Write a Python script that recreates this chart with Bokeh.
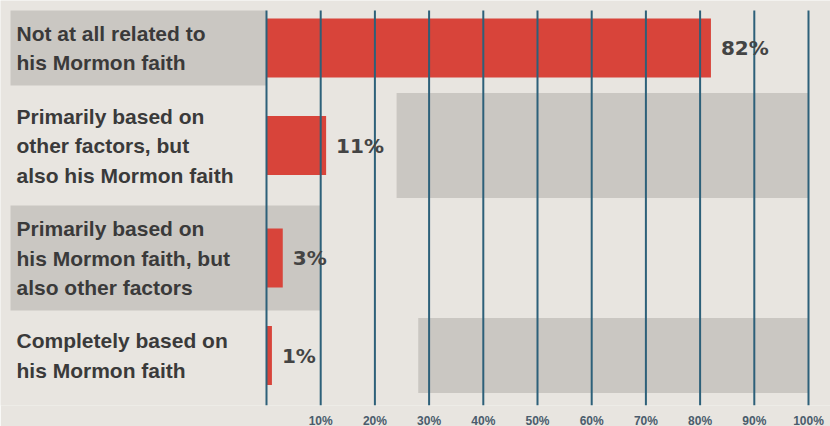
from bokeh.plotting import figure
from bokeh.models import Range1d, FixedTicker, ColumnDataSource
from bokeh.core.properties import value
from bokeh.embed import file_html
from bokeh.resources import INLINE

# ---- data ----
categories = [
    "Not at all related to\nhis Mormon faith",
    "Primarily based on\nother factors, but\nalso his Mormon faith",
    "Primarily based on\nhis Mormon faith, but\nalso other factors",
    "Completely based on\nhis Mormon faith",
]
values = [82, 11, 3, 1]
value_labels = ["82%", "11%", "3%", "1%"]
ticks = [10, 20, 30, 40, 50, 60, 70, 80, 90, 100]
tick_labels = ["10%", "20%", "30%", "40%", "50%", "60%", "70%", "80%", "90%", "100%"]
grid_values = [0] + ticks

# ---- layout (pixels) ----
W, FRAME_H = 830, 405
ZERO_PX, HUNDRED_PX = 266, 808
ppu = (HUNDRED_PX - ZERO_PX) / 100.0
x_start = -ZERO_PX / ppu
x_end = (W - ZERO_PX) / ppu
to_x = lambda px: (px - ZERO_PX) / ppu

BG = "#e8e5e0"
GREY = "#cac7c2"
RED = "#d8443a"
GRID = "#2d6079"
TEXT = "#3a3a3a"

# row geometry derived from number of label lines
top = 10
gap = 7.5
line_h = 29.5
rows = []
for cat in categories:
    n = len(cat.split("\n"))
    h = 15 + 30 * n
    rows.append((top, top + h))
    top += h + gap
centers = [(a + b) / 2 for a, b in rows]

p = figure(frame_width=W, frame_height=FRAME_H, output_backend="svg",
           toolbar_location=None, x_range=Range1d(x_start, x_end),
           y_range=Range1d(FRAME_H, 0), y_axis_location=None,
           min_border=0, min_border_left=0, min_border_right=0, min_border_top=0)
p.background_fill_color = BG
p.border_fill_color = BG
p.outline_line_color = None
p.xgrid.visible = False
p.ygrid.visible = False

# decorative grey bands (as seen on the scan)
label_left = to_x(10)
bands = dict(
    left=[label_left, 24, label_left, 28],
    right=[0, 100, 10, 100],
    top=[rows[0][0], rows[1][0], rows[2][0], rows[3][0]],
    bottom=[rows[0][1], rows[1][1], rows[2][1], rows[3][1]],
)
p.quad(source=ColumnDataSource(bands), left="left", right="right", top="top",
       bottom="bottom", fill_color=GREY, line_color=None)

# bars
bar_h = 59
src = ColumnDataSource(dict(y=centers, v=values, lab=value_labels))
p.hbar(y="y", right="v", left=0, height=bar_h, source=src,
       fill_color=RED, line_color=None)

# gridlines
p.segment(x0=grid_values, x1=grid_values, y0=[10] * len(grid_values),
          y1=[FRAME_H] * len(grid_values), line_color=GRID, line_width=2)

# value labels
p.text(x="v", y="y", text="lab", source=src, x_offset=10,
       text_font=value("DejaVu Sans"), text_font_style="bold",
       text_font_size="20px", text_color="#444444", text_baseline="middle")

# category labels, line by line
lx, ly, lt = [], [], []
for cat, c in zip(categories, centers):
    lines = cat.split("\n")
    n = len(lines)
    for i, t in enumerate(lines):
        lx.append(to_x(16))
        ly.append(c + (i - (n - 1) / 2) * line_h)
        lt.append(t)
p.text(x=lx, y=ly, text=lt, text_font=value("Liberation Sans"),
       text_font_style="bold", text_font_size="21px", text_color=TEXT,
       text_baseline="middle")

# x axis
ax = p.xaxis[0]
ax.ticker = FixedTicker(ticks=ticks)
ax.major_label_overrides = {t: l for t, l in zip(ticks, tick_labels)}
ax.axis_line_color = None
ax.major_tick_line_color = None
ax.minor_tick_line_color = None
ax.major_label_standoff = 2
ax.major_label_text_font = "Liberation Sans"
ax.major_label_text_font_style = "bold"
ax.major_label_text_font_size = "12px"
ax.major_label_text_color = "#4a5c6c"

open("out.html", "w").write(file_html(p, INLINE))
